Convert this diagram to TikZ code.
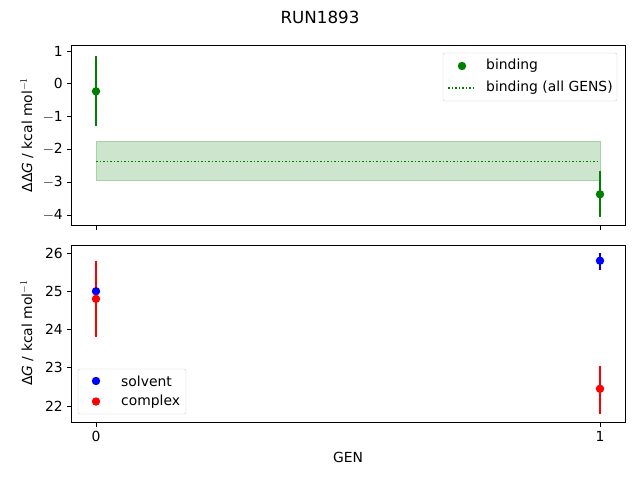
\documentclass[tikz,border=0pt]{standalone}
\usepackage{fontspec}
\setmainfont{DejaVu Sans}
\definecolor{mgreen}{HTML}{008000}
\begin{document}
\begin{tikzpicture}[x=1pt,y=-1pt,font=\fontsize{13.9}{16}\selectfont,
  ax/.style={line width=0.8pt},
  tk/.style={line width=0.8pt},
  eb/.style={line width=1.5pt},
  lbl/.style={inner sep=0pt}]
\useasboundingbox (0,0) rectangle (640,480);
% title
\node[lbl,font=\fontsize{16.7}{18}\selectfont] (title) at (320,17) {RUN1893};
% ---- top axes
\fill[mgreen!20] (96,141.2) rectangle (600,179.9);
\draw[mgreen!35,line width=0.8pt] (96,141.2) rectangle (600,179.9);
\draw[mgreen,dotted,line width=1.5pt] (96,161.5) -- (600,161.5);
\draw[mgreen,eb] (96,55.9) -- (96,125.5);
\draw[mgreen,eb] (600,170.7) -- (600,216.6);
\fill[mgreen] (96,91.3) circle (4.2);
\fill[mgreen] (600,194.3) circle (4.2);
\draw[ax] (71,45) rectangle (625,225);
\foreach \v/\p in {1/51,0/83.8,{$-$1}/116.6,{$-$2}/149.4,{$-$3}/182.2,{$-$4}/215}{
  \draw[tk] (71,\p) -- (66.5,\p);
  \node[lbl,anchor=east] at (63,\p) {\v};}
\foreach \x in {96,600}{\draw[tk] (\x,225) -- (\x,229.5);}
\node[lbl,rotate=90] (yl1) at (27,135) {ΔΔ\textit{G} / kcal mol$^{-1}$};
% legend top
\draw[black!20,fill=white,rounded corners=2pt] (443,53) rectangle (617,101);
\fill[mgreen] (462,66) circle (4.2);
\node[lbl,anchor=west] at (486,66) {binding};
\draw[mgreen,dotted,line width=1.5pt] (448,88) -- (476,88);
\node[lbl,anchor=west] at (486,88) {binding (all GENS)};
% ---- bottom axes
\draw[red,eb] (96,260.7) -- (96,337.2);
\draw[blue,eb] (600,253) -- (600,270.2);
\draw[red,eb] (600,365.8) -- (600,413.7);
\fill[blue] (96,291.25) circle (4.2);
\fill[blue] (600,260.7) circle (4.2);
\fill[red] (96,298.9) circle (4.2);
\fill[red] (600,388.8) circle (4.2);
\draw[ax] (71,245) rectangle (625,422);
\foreach \v/\p in {26/253,25/291.25,24/329.5,23/367.75,22/406}{
  \draw[tk] (71,\p) -- (66.5,\p);
  \node[lbl,anchor=east] at (63,\p) {\v};}
\foreach \x/\t in {96/0,600/1}{
  \draw[tk] (\x,422) -- (\x,426.5);
  \node[lbl,anchor=north] at (\x,431) {\t};}
\node[lbl] (xl) at (348,457) {GEN};
\node[lbl,rotate=90] (yl2) at (27,333) {Δ\textit{G} / kcal mol$^{-1}$};
% legend bottom
\draw[black!20,fill=white,rounded corners=2pt] (78,369) rectangle (186,414);
\fill[blue] (96,381) circle (4.2);
\node[lbl,anchor=west] at (121,381) {solvent};
\fill[red] (96,401.5) circle (4.2);
\node[lbl,anchor=west] at (121,401.5) {complex};
\end{tikzpicture}
\end{document}
